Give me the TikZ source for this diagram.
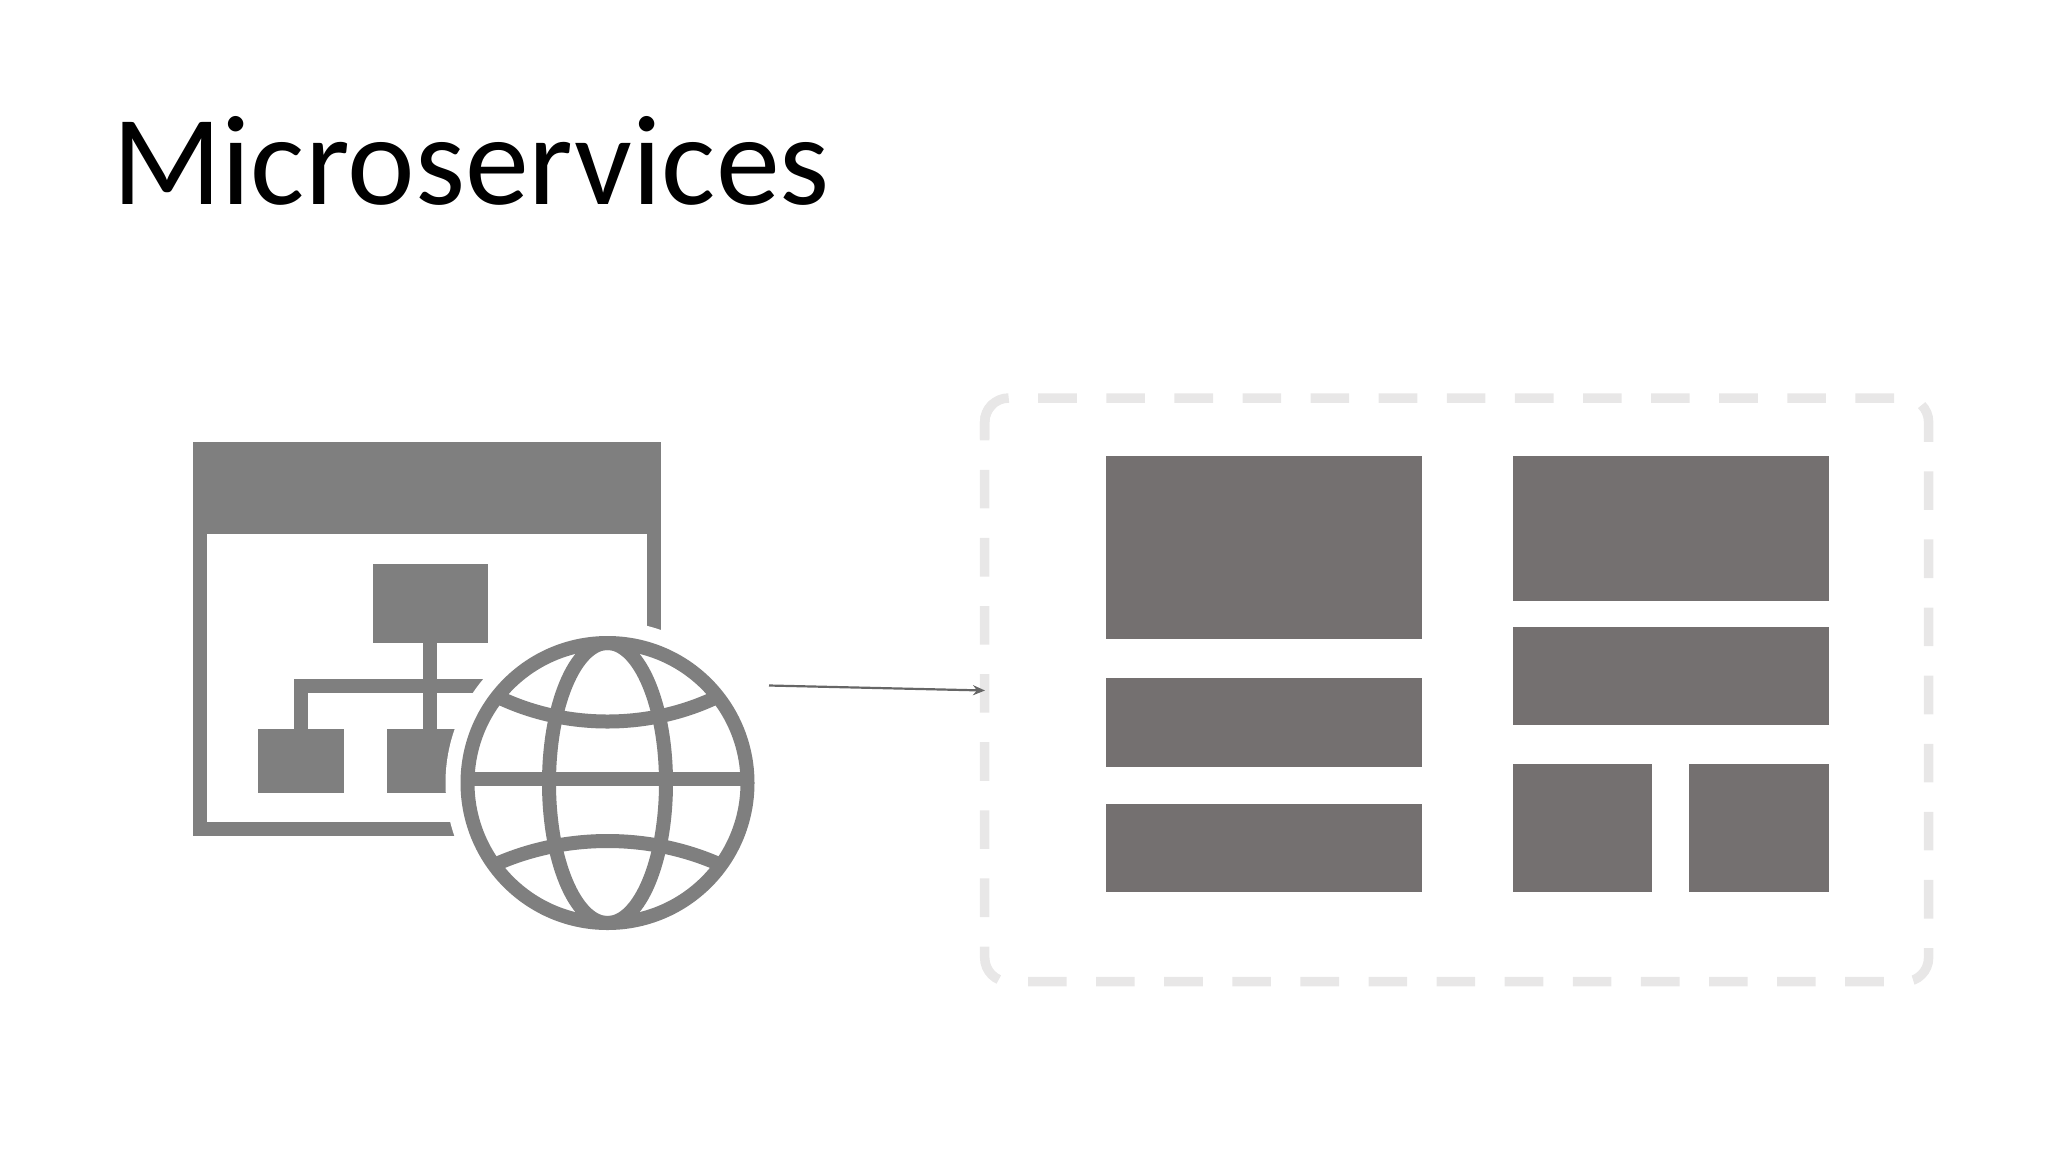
\documentclass[tikz,border=0pt]{standalone}
\usepackage{fontspec}
\usetikzlibrary{arrows.meta}
\setmainfont{Carlito}
\definecolor{iconcol}{HTML}{7F7F7F}
\definecolor{panelcol}{HTML}{747070}
\definecolor{framecol}{HTML}{E8E7E7}
\definecolor{arrowcol}{HTML}{666666}
\tikzset{
 panel/.style={fill=panelcol, anchor=north west, inner sep=0pt, outer sep=0pt},
 iconbox/.style={fill=iconcol, anchor=north west, inner sep=0pt, outer sep=0pt},
 globeline/.style={draw=iconcol, line width=14pt},
 frameline/.style={framecol, line width=9.5pt, rounded corners=24pt},
}
\begin{document}
\begin{tikzpicture}[x=1pt, y=-1pt, line join=miter, >=stealth]
 \useasboundingbox (0,0) rectangle (2048,1152);
 \node[anchor=base west, inner sep=0pt, font=\fontsize{128}{150}\selectfont] (title) at (112,204) {Microservices};
 % window with the tree
 \fill[iconcol] (192.5,441.5) rectangle (661,836);
 \fill[white] (207,534) rectangle (646.5,821.5);
 \node[iconbox, minimum width=115.5pt, minimum height=79pt] (boxtop) at (372.5,563.5) {};
 \node[iconbox, minimum width=86.5pt, minimum height=64.5pt] (boxleft) at (257.5,728.5) {};
 \node[iconbox, minimum width=87pt, minimum height=64.5pt] (boxmid) at (387,728.5) {};
 \fill[iconcol] (423,642) rectangle (437,729);
 \fill[iconcol] (293.5,678.5) rectangle (520,693);
 \fill[iconcol] (293.5,678.5) rectangle (307.5,729);
 % globe
 \fill[white] (607.5,783) circle [radius=162];
 \begin{scope}
 \clip (607.5,783) circle [radius=142];
 \draw[globeline] (465,779) -- (750,779);
 \draw[globeline] (607.5,783) ellipse [x radius=58.5, y radius=140];
 \draw[globeline] (496,696) .. controls (565,730) and (650,730) .. (719,696);
 \draw[globeline] (494,865) .. controls (565,833) and (650,833) .. (721,865);
 \end{scope}
 \draw[globeline] (607.5,783) circle [radius=140];
 % frame
 \draw[frameline, dash pattern=on 38.6pt off 29.5pt, dash phase=38.6pt]
  (1008.7,398) -- (1928.6,398) -- (1928.6,981.7) -- (984.7,981.7) -- (984.7,398) -- (1008.7,398);
 \draw[frameline] (984.7,439) -- (984.7,398) -- (1008.7,398);
 \foreach \name/\x/\y/\w/\h in {a/1106/456/316/183, b/1106/678/316/88.5, c/1106/803.5/316/88.5,
   d/1512.5/456/316/145, e/1512.5/627/316/98, f/1512.5/764/139.5/128, g/1689/764/139.5/128}{
  \node[panel, minimum width=\w pt, minimum height=\h pt] (\name) at (\x,\y) {};
 }
 \coordinate (arrowstart) at (769,685.5);
 \coordinate (arrowend) at (985,690.5);
 \draw[-{Stealth[length=12pt,width=10pt]}, arrowcol, line width=2.2pt] (arrowstart) -- (arrowend);
\end{tikzpicture}
\end{document}
